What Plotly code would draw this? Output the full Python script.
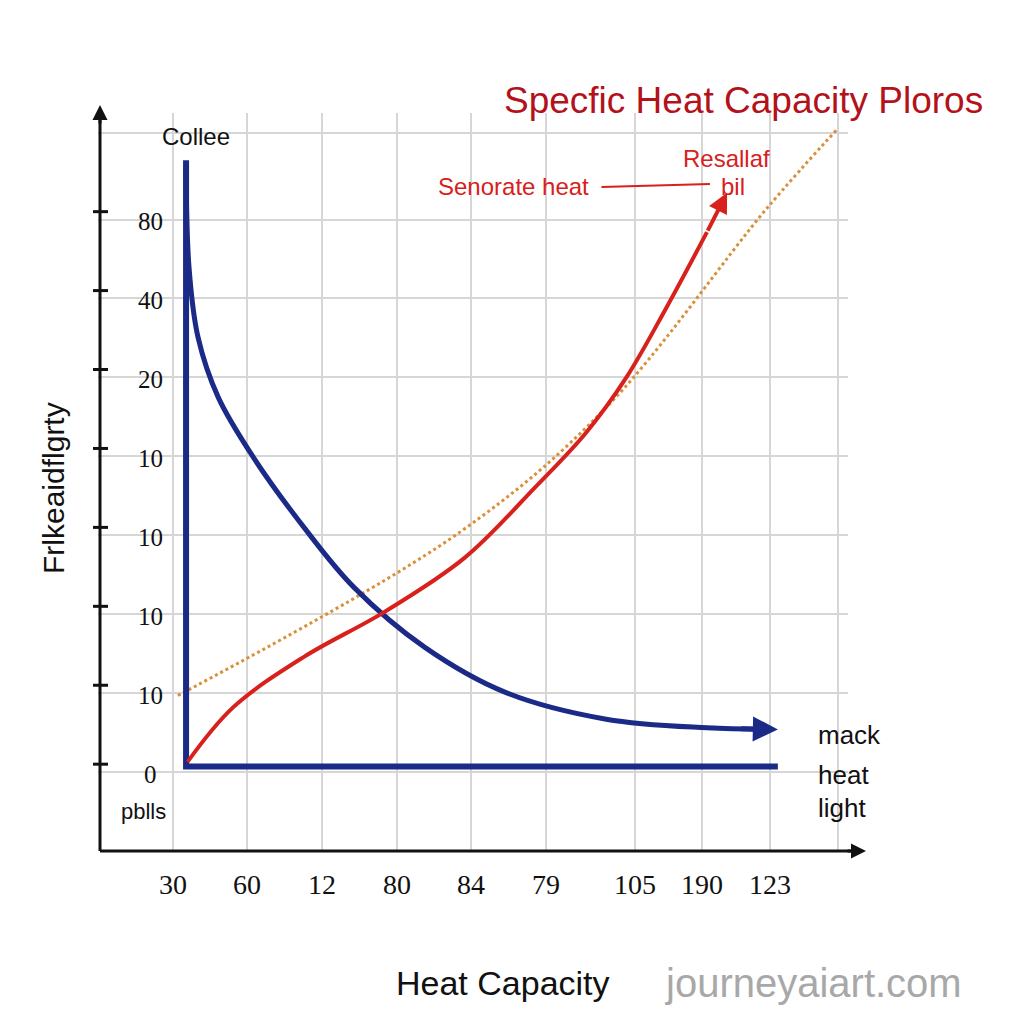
import plotly.graph_objects as go

# tick positions and their (odd) labels
x_pos = [0, 1, 2, 3, 4, 5, 6.2, 7.1, 8, 8.92]
x_labels = ["30", "60", "12", "80", "84", "79", "105", "190", "123", ""]
y_pos = [0, 1, 2, 3, 4, 5, 6, 7, 8.1]
y_labels = ["0", "10", "10", "10", "10", "20", "40", "80", ""]

# curves
blue_x = [0.18, 0.22, 0.34, 0.61, 1.08, 1.76, 2.43, 3.38, 4.46, 5.81, 7.16, 7.95]
blue_y = [7.66, 6.39, 5.51, 4.75, 3.99, 3.10, 2.34, 1.58, 1.01, 0.67, 0.56, 0.54]
base_x = [0.18, 0.18, 8.11]
base_y = [7.75, 0.07, 0.07]
red_x = [0.2, 0.81, 1.76, 2.84, 3.92, 4.86, 5.54, 6.08, 6.62, 7.16]
red_y = [0.13, 0.82, 1.46, 2.03, 2.72, 3.61, 4.30, 5.0, 5.89, 6.84]
dot_x = [0.07, 3.85, 5.81, 7.97, 8.92]
dot_y = [0.97, 3.04, 4.62, 7.15, 8.16]

NAVY = "#1b2a86"
RED = "#d8201c"

fig = go.Figure()
fig.add_trace(go.Scatter(x=dot_x, y=dot_y, mode="lines", line_shape="spline",
                         line=dict(color="#d9903a", width=3, dash="dot")))
fig.add_trace(go.Scatter(x=base_x, y=base_y, mode="lines",
                         line=dict(color=NAVY, width=6)))
fig.add_trace(go.Scatter(x=blue_x, y=blue_y, mode="lines", line_shape="spline",
                         line=dict(color=NAVY, width=5)))
fig.add_trace(go.Scatter(x=red_x, y=red_y, mode="lines", line_shape="spline",
                         line=dict(color=RED, width=4)))

ann = []
# arrow heads
ann.append(dict(x=8.11, y=0.54, ax=7.6, ay=0.55, xref="x", yref="y", axref="x", ayref="y",
                showarrow=True, arrowhead=2, arrowsize=1, arrowwidth=5, arrowcolor=NAVY, text=""))
ann.append(dict(x=7.43, y=7.34, ax=7.16, ay=6.84, xref="x", yref="y", axref="x", ayref="y",
                showarrow=True, arrowhead=2, arrowsize=1, arrowwidth=4, arrowcolor=RED, text=""))
# connector from label to arrow
ann.append(dict(x=7.2, y=7.45, ax=-110, ay=3, xref="x", yref="y",
                showarrow=True, arrowhead=0, arrowwidth=2, arrowcolor=RED, text=""))

def txt(px, py, s, size, color="#111", font="Liberation Sans", xanchor="center", angle=0):
    ann.append(dict(x=px / 1024, y=1 - py / 1024, xref="paper", yref="paper", text=s,
                    showarrow=False, xanchor=xanchor, yanchor="middle", textangle=angle,
                    font=dict(size=size, color=color, family=font)))

fig.update_layout(
    width=1024, height=1024,
    margin=dict(l=0, r=0, t=0, b=0),
    paper_bgcolor="white", plot_bgcolor="white", showlegend=False,
)
fig.update_xaxes(domain=[90 / 1024, 840 / 1024], range=[-1.0, 9.05],
                 tickvals=x_pos, ticktext=x_labels, showgrid=True, gridcolor="#d6d6d6", gridwidth=2,
                 zeroline=False, showline=False, ticks="", showticklabels=False)
fig.update_yaxes(domain=[1 - 843 / 1024, 1 - 105 / 1024], range=[-1.0, 8.35],
                 tickvals=y_pos, ticktext=y_labels, showgrid=True, gridcolor="#d6d6d6", gridwidth=2,
                 zeroline=False, showline=False, ticks="", showticklabels=False)

# tick labels placed from the arrays
for xp, lab in zip(x_pos, x_labels):
    if lab:
        ann.append(dict(x=xp, y=1 - 876 / 1024, xref="x", yref="paper", text=lab, showarrow=False,
                        xanchor="center", yanchor="middle",
                        font=dict(size=28, family="Liberation Serif", color="#111")))
for yp, lab in zip(y_pos, y_labels):
    if lab:
        ann.append(dict(x=142 / 1024, y=yp, xref="paper", yref="y", yshift=-2, text=lab, showarrow=False,
                        xanchor="center", yanchor="middle",
                        font=dict(size=25, family="Liberation Serif", color="#111")))

txt(735, 92, "Specfic Heat Capacity Ploros", 37, color="#b3121b")
txt(505, 178, "Senorate heat", 24, color=RED)
txt(718, 150, "Resallaf", 24, color=RED)
txt(725, 178, "bil", 24, color=RED)
txt(188, 128, "Collee", 24)
txt(808, 727, "mack", 26, xanchor="left")
txt(808, 767, "heat", 26, xanchor="left")
txt(808, 800, "light", 26, xanchor="left")
txt(135, 803, "pblls", 22)
txt(45, 480, "Frlkeaidflgrty", 30, angle=-90)
txt(495, 975, "Heat Capacity", 34)
txt(805, 975, "journeyaiart.com", 40, color="#a8a8a8")

# axes with arrows
fig.add_shape(type="line", xref="paper", yref="paper", x0=92 / 1024, x1=92 / 1024,
              y0=1 - 843 / 1024, y1=1 - 105 / 1024, line=dict(color="#111", width=3))
fig.add_shape(type="line", xref="paper", yref="paper", x0=92 / 1024, x1=848 / 1024,
              y0=1 - 843 / 1024, y1=1 - 843 / 1024, line=dict(color="#111", width=3))
ann.append(dict(x=92 / 1024, y=1 - 97 / 1024, ax=0, ay=20, xref="paper", yref="paper",
                showarrow=True, arrowhead=2, arrowwidth=3, arrowcolor="#111", text=""))
ann.append(dict(x=858 / 1024, y=1 - 843 / 1024, ax=-20, ay=0, xref="paper", yref="paper",
                showarrow=True, arrowhead=2, arrowwidth=3, arrowcolor="#111", text=""))
for yp in y_pos[:-1]:
    fig.add_shape(type="line", xref="paper", yref="y", x0=85 / 1024, x1=100 / 1024,
                  y0=yp + 0.1, y1=yp + 0.1, line=dict(color="#111", width=3))

fig.update_layout(annotations=ann)
fig.write_html("out.html")
